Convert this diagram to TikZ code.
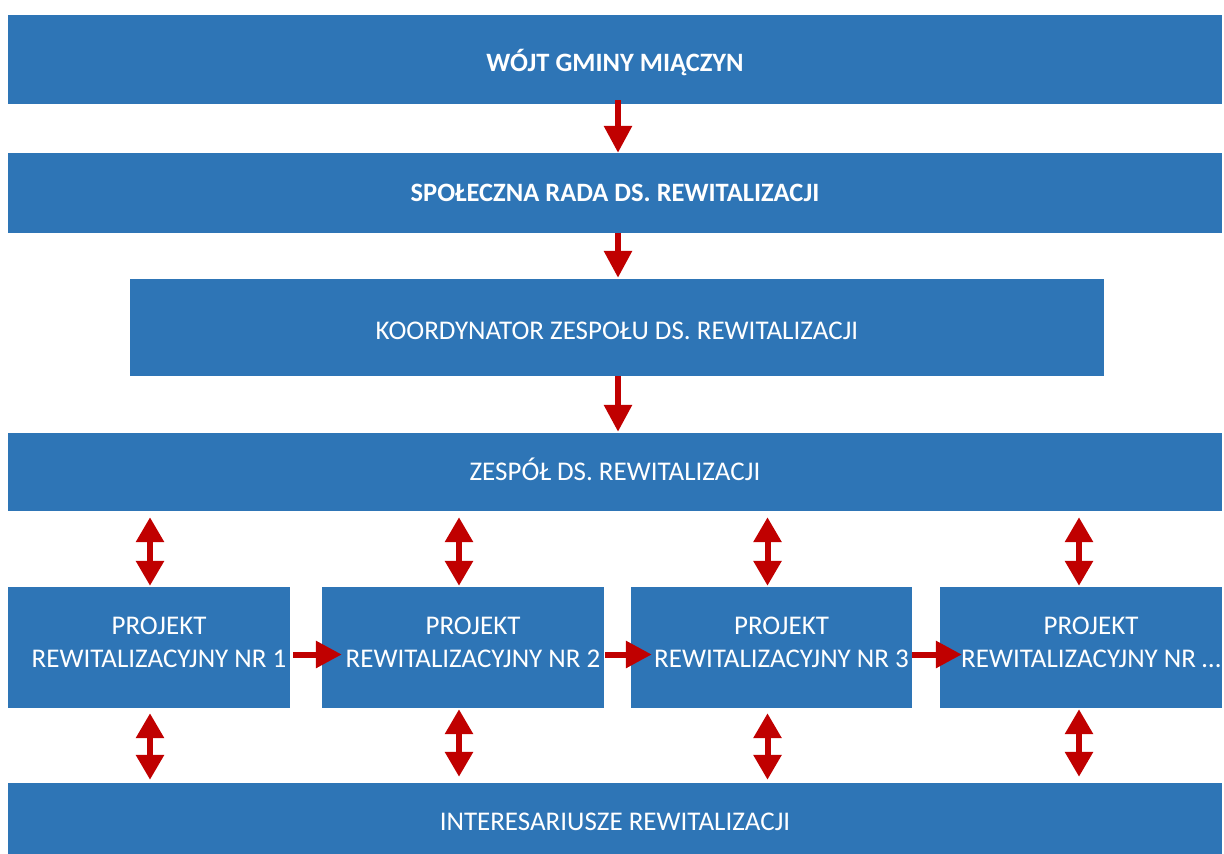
\documentclass[tikz,border=0pt]{standalone}
\usepackage{fontspec}
\setmainfont{Carlito}
\usetikzlibrary{arrows.meta}
\definecolor{boxblue}{HTML}{2E75B6}
\definecolor{arrred}{HTML}{C00000}
\newcommand{\pad}{\hspace*{20pt}}
\tikzset{
  bx/.style={fill=boxblue, draw=none, text=white, inner sep=0pt, align=center,
    font=\fontsize{27}{33}\selectfont},
  bxbold/.style={bx, font=\fontsize{26.5}{33}\selectfont\bfseries},
  arr/.style={draw=arrred, line width=6pt, -{Triangle[width=27pt,length=27pt]}},
  darr/.style={draw=arrred, line width=6pt, {Triangle[width=27pt,length=25pt]}-{Triangle[width=27pt,length=25pt]}},
  harr/.style={draw=arrred, line width=6pt, -{Triangle[width=26pt,length=26pt]}}
}
\begin{document}
\begin{tikzpicture}[x=1pt,y=-1pt]
\useasboundingbox (0,0) rectangle (1224,854);
\node[bxbold, minimum width=1214pt, minimum height=89pt, text height=24pt, text depth=0pt] (w) at (615,59.5) {WÓJT GMINY MIĄCZYN};
\node[bxbold, minimum width=1214pt, minimum height=80pt] (s) at (615,193) {SPOŁECZNA RADA DS. REWITALIZACJI};
\node[bx, minimum width=974pt, minimum height=97pt, text height=24pt, text depth=0pt] (k) at (617,327.5) {KOORDYNATOR ZESPOŁU DS. REWITALIZACJI};
\node[bx, minimum width=1214pt, minimum height=78pt, text height=20pt, text depth=4pt] (z) at (615,472) {ZESPÓŁ DS. REWITALIZACJI};
\tikzset{pbox/.style={bx, minimum height=121pt, text depth=11pt}}
\node[pbox, minimum width=282pt] (p1) at (149,647.5) {\pad PROJEKT\\\pad REWITALIZACYJNY NR 1};
\node[pbox, minimum width=282pt] (p2) at (463,647.5) {\pad PROJEKT\\\pad REWITALIZACYJNY NR 2};
\node[pbox, minimum width=281pt] (p3) at (771.5,647.5) {\pad PROJEKT\\\pad REWITALIZACYJNY NR 3};
\node[pbox, minimum width=282pt] (p4) at (1081,647.5) {\pad PROJEKT\\\pad REWITALIZACYJNY NR \dots};
\node[bx, minimum width=1214pt, minimum height=71pt, text height=24pt, text depth=0pt] (i) at (615,818.5) {INTERESARIUSZE REWITALIZACJI};
% vertical arrows
\draw[arr] ([xshift=3pt,yshift=4pt]w.south) -- ([xshift=3pt]s.north);
\draw[arr] ([xshift=3pt]s.south) -- ([xshift=1pt,yshift=1pt]k.north);
\draw[arr] ([xshift=1pt]k.south) -- ([xshift=3pt,yshift=1pt]z.north);
% double arrows upper
\foreach \p/\dx in {p1/1,p2/-4,p3/-4,p4/-2} {
  \draw[darr] ([xshift=\dx pt,yshift=-6pt]z.south -| \p.north) -- ([xshift=\dx pt,yshift=1pt]\p.north);
}
% double arrows lower
\draw[darr] ([xshift=1pt,yshift=-5pt]p1.south) -- ([xshift=1pt,yshift=3pt]p1.south |- i.north);
\draw[darr] ([xshift=-4pt,yshift=-1pt]p2.south) -- ([xshift=-4pt,yshift=6pt]p2.south |- i.north);
\draw[darr] ([xshift=-4pt,yshift=-5pt]p3.south) -- ([xshift=-4pt,yshift=3pt]p3.south |- i.north);
\draw[darr] ([xshift=-2pt,yshift=-1pt]p4.south) -- ([xshift=-2pt,yshift=6pt]p4.south |- i.north);
% horizontal arrows
\draw[harr, shorten >=-20pt] ([xshift=3pt,yshift=-7pt]p1.east) -- ([yshift=-7pt]p2.west);
\draw[harr, shorten >=-21pt] ([xshift=1pt,yshift=-7pt]p2.east) -- ([yshift=-7pt]p3.west);
\draw[harr, shorten >=-22pt] ([yshift=-7pt]p3.east) -- ([yshift=-7pt]p4.west);
\end{tikzpicture}
\end{document}
